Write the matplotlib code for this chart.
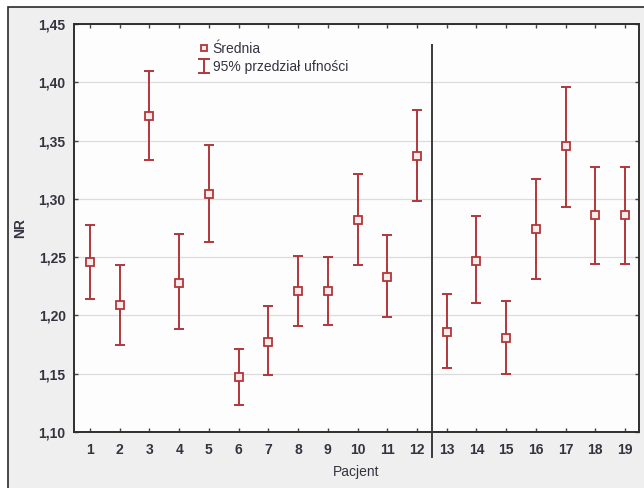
import matplotlib
matplotlib.use("Agg")
import matplotlib.pyplot as plt
from matplotlib.lines import Line2D
from matplotlib.legend_handler import HandlerBase

patients = list(range(1, 20))
means = [1.246, 1.209, 1.371, 1.228, 1.304, 1.147, 1.177, 1.221, 1.221, 1.282,
         1.233, 1.337, 1.186, 1.247, 1.181, 1.274, 1.345, 1.286, 1.286]
upper = [1.278, 1.243, 1.410, 1.270, 1.346, 1.171, 1.208, 1.251, 1.250, 1.321,
         1.269, 1.376, 1.218, 1.285, 1.212, 1.317, 1.396, 1.327, 1.327]
lower = [1.214, 1.175, 1.333, 1.188, 1.263, 1.123, 1.149, 1.191, 1.192, 1.243,
         1.199, 1.298, 1.155, 1.211, 1.150, 1.231, 1.293, 1.244, 1.244]
yticks = [1.10, 1.15, 1.20, 1.25, 1.30, 1.35, 1.40, 1.45]
ytick_labels = ["1,10", "1,15", "1,20", "1,25", "1,30", "1,35", "1,40", "1,45"]
split_at = 12.5
legend_labels = ["Średnia", "95% przedział ufności"]

RED = "#b0373a"
TXT = "#33343f"
plt.rcParams['font.family'] = ['Liberation Sans', 'DejaVu Sans']

fig = plt.figure(figsize=(6.44, 4.88), dpi=100)
fig.patch.set_facecolor("white")
# outer light grey panel with dark border
bg = plt.Rectangle((8/644, -0.01), 1.0, 1 - 7/488 + 0.01, transform=fig.transFigure,
                   facecolor="#efefef", edgecolor="#2a2a2a", linewidth=1.2, zorder=-10)
fig.patches.append(bg)

ax = fig.add_axes([74/644, 1 - 432/488, (639-74)/644, (432-24)/488])
ax.set_zorder(1)
ax.set_facecolor("#fdfdfd")

yerr = [[m - l for m, l in zip(means, lower)], [u - m for m, u in zip(means, upper)]]
ax.errorbar(patients, means, yerr=yerr, fmt='none', ecolor=RED, elinewidth=1.4,
            capsize=3.5, capthick=1.4, zorder=3)
ax.plot(patients, means, linestyle='none', marker='s', markersize=5.5,
        markerfacecolor="#fbeaea", markeredgecolor=RED, markeredgewidth=1.3, zorder=4)

ax.set_xlim(0.46, 19.47)
ax.set_ylim(1.10, 1.45)
ax.set_yticks(yticks)
ax.set_yticklabels(ytick_labels)
ax.set_xticks(patients)
ax.set_xticklabels([str(p) for p in patients])
ax.yaxis.grid(True, color="#dcdcdc", linewidth=0.9)
ax.set_axisbelow(True)

for s in ax.spines.values():
    s.set_color("#2e2e2e")
    s.set_linewidth(1.4)
ax.tick_params(direction='in', length=3, width=1, color="#444444",
               top=True, right=True, labelsize=10, labelcolor=TXT)
ax.tick_params(axis='y', pad=6)
ax.tick_params(axis='x', pad=8)
for lab in ax.get_xticklabels() + ax.get_yticklabels():
    lab.set_fontweight('bold')

ax.plot([split_at, split_at], [1.0786, 1.432], color="#3a3a3a", linewidth=1.4,
        clip_on=False, zorder=5)

ax.set_xlabel("Pacjent", fontsize=10, color=TXT, labelpad=6)
ax.set_ylabel("NR", fontsize=10, color=TXT, fontweight='bold', labelpad=8)


class HandlerCI(HandlerBase):
    def create_artists(self, legend, orig_handle, xdescent, ydescent, width, height,
                       fontsize, trans):
        cx = width / 2 - xdescent
        y0 = -ydescent - 1.5
        y1 = height - ydescent + 1.5
        c = 3.5
        arts = [Line2D([cx, cx], [y0, y1]), Line2D([cx - c, cx + c], [y0, y0]),
                Line2D([cx - c, cx + c], [y1, y1])]
        for a in arts:
            a.set_color(RED)
            a.set_linewidth(1.4)
            a.set_transform(trans)
        return arts


h_mean = Line2D([], [], linestyle='none', marker='s', markersize=5,
                markerfacecolor="#fbeaea", markeredgecolor=RED, markeredgewidth=1.3)
h_ci = Line2D([], [], color=RED)
leg = ax.legend([h_mean, h_ci], legend_labels, handler_map={h_ci: HandlerCI()},
                loc='upper left', bbox_to_anchor=(0.21, 0.97), frameon=False,
                fontsize=10, handlelength=0.8, handletextpad=0.25, labelspacing=0.3,
                borderaxespad=0)
for t in leg.get_texts():
    t.set_color(TXT)

fig.savefig("out.png", dpi=100)
